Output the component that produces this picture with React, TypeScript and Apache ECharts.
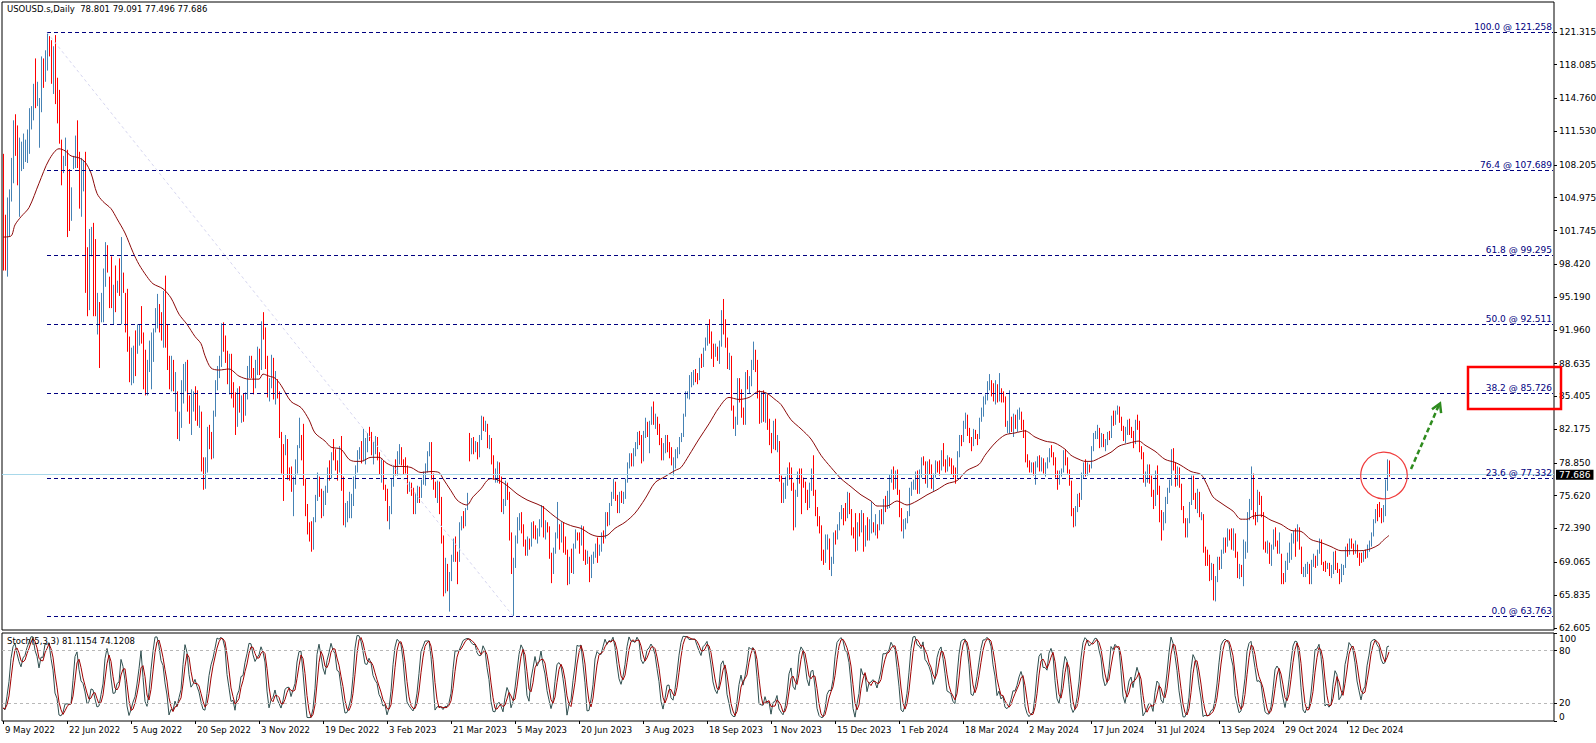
import React, { useEffect, useRef } from 'react';
import * as echarts from 'echarts';

// ---- Daily OHLC bars (USOUSD.s), 9 May 2022 .. 14 Jan 2025 ----
const OPEN = [
108.5,102.5,98.5,102.0,105.0,107.0,112.5,110.5,104.5,108.0,
108.5,109.0,109.5,110.5,112.5,113.5,118.0,114.5,110.5,114.0,
118.5,116.5,118.0,120.6,119.5,116.0,120.5,116.0,114.5,110.5,
107.6,108.5,109.5,106.0,103.0,108.0,108.5,112.0,108.8,104.0,
106.0,108.5,99.5,95.0,100.0,101.5,99.5,92.5,94.0,93.0,
93.5,97.0,100.0,97.0,98.5,93.0,97.5,95.8,98.0,93.5,
97.4,95.3,95.0,91.0,87.0,87.5,91.5,90.0,90.8,94.0,
91.3,89.5,86.0,88.3,87.0,89.5,92.0,92.5,94.3,93.4,
91.0,96.8,92.0,89.0,86.5,88.7,84.5,85.5,81.5,83.0,
85.0,86.5,88.6,85.2,82.0,84.2,85.9,84.0,83.0,83.4,
78.6,76.8,78.5,82.2,81.3,79.5,83.6,86.5,87.8,88.5,
92.5,91.1,89.3,87.3,89.1,85.6,85.5,82.8,86.0,84.5,
85.0,84.6,85.3,87.9,89.1,87.9,86.5,88.4,90.0,88.2,
92.6,91.8,88.9,85.8,86.5,89.0,85.9,86.9,85.6,81.6,
80.1,80.0,80.95,77.9,77.8,76.3,77.2,78.2,80.55,81.2,
80.0,76.9,74.25,72.0,71.5,71.0,73.2,75.4,77.3,76.1,
74.3,75.2,76.2,78.3,77.5,79.6,79.5,78.96,78.4,80.3,
76.9,72.8,73.7,73.8,74.6,75.1,77.4,78.4,79.9,80.2,
79.5,79.8,80.3,81.7,81.6,80.1,80.15,81.0,79.7,77.9,
78.9,76.4,75.9,73.4,74.1,77.1,78.5,78.1,79.7,80.1,
79.1,78.6,78.5,76.3,76.6,76.2,74.0,75.4,76.3,75.7,
77.05,77.7,78.2,79.7,80.5,77.6,76.7,75.7,76.7,74.8,
71.3,67.6,68.35,66.7,67.6,69.3,70.9,69.96,69.26,72.8,
73.2,72.97,74.4,81.3,80.4,80.7,80.6,80.6,79.7,81.5,
83.3,82.2,82.5,80.8,81.0,79.2,77.4,77.9,78.8,77.1,
74.3,74.8,76.8,75.7,71.7,68.6,68.9,71.3,73.2,73.7,
72.6,70.9,70.0,71.1,70.9,72.8,72.0,71.7,71.99,72.9,
74.3,71.8,72.7,72.4,69.5,68.1,70.1,71.7,72.2,71.7,
72.5,70.3,70.2,67.1,69.4,68.3,70.6,71.8,71.6,71.2,
72.5,69.5,69.2,69.4,67.7,69.6,69.9,70.6,69.8,70.6,
71.8,71.7,73.9,72.99,74.8,75.75,76.9,75.4,74.15,75.75,
75.35,75.6,77.1,78.7,79.6,78.8,80.1,80.6,81.8,81.4,
79.5,81.55,82.8,81.9,82.9,84.4,82.8,83.2,82.5,80.99,
79.4,80.4,81.25,80.7,79.6,78.9,79.05,79.8,80.1,81.2,
81.6,83.6,85.55,85.6,86.7,87.5,87.9,87.5,87.3,88.8,
88.5,90.2,90.8,91.5,91.2,90.3,89.6,90.0,89.7,90.4,
93.7,91.7,90.8,88.8,89.2,84.2,82.3,82.8,86.4,85.97,
83.5,82.9,87.7,86.7,86.8,88.3,89.4,88.1,85.5,83.7,
85.4,83.2,85.5,82.3,81.0,80.4,82.5,80.5,80.8,77.4,
75.3,75.7,77.2,78.3,78.2,76.7,72.9,75.9,77.8,77.7,
77.1,76.7,75.5,74.9,76.4,77.9,75.96,74.1,73.0,72.3,
69.4,69.3,71.2,71.3,68.6,69.5,71.6,71.4,72.5,73.9,
74.2,73.9,73.6,75.6,74.1,71.8,71.65,70.4,72.7,72.2,
73.8,70.8,72.2,71.4,72.0,72.7,72.4,72.6,72.5,73.95,
73.4,74.8,74.4,75.1,77.4,78.0,76.8,77.8,75.85,73.8,
72.3,72.8,73.3,73.9,76.2,76.8,76.9,77.9,76.6,78.0,
79.2,78.9,77.0,78.9,78.6,76.5,77.6,78.9,78.5,78.3,
80.0,78.7,78.15,79.1,78.9,78.0,77.9,77.6,79.7,81.3,
81.0,82.7,83.5,81.7,81.1,80.6,81.95,81.6,81.35,83.2,
83.7,85.15,85.4,86.6,86.9,86.4,85.2,86.2,85.0,85.7,
85.4,85.3,82.7,82.8,83.1,82.9,83.4,82.8,83.6,83.85,
82.6,81.9,79.0,78.95,78.1,78.5,77.9,78.9,79.3,78.3,
79.1,78.0,78.6,79.2,80.1,79.8,79.3,77.6,76.9,77.7,
78.1,79.8,79.2,77.9,76.99,74.2,73.25,74.1,75.55,75.5,
77.7,78.9,78.5,78.6,78.45,80.3,81.6,81.7,82.2,80.7,
81.6,80.8,80.9,81.7,81.5,83.4,82.8,83.9,84.1,83.2,
82.3,81.4,82.1,82.6,82.2,81.9,80.8,82.85,82.8,80.1,
79.8,76.96,77.6,78.3,77.2,75.8,74.7,77.9,76.3,73.5,
72.9,73.2,75.2,76.2,76.8,80.1,78.35,76.98,78.2,76.65,
74.4,73.2,71.9,73.0,74.8,77.4,75.5,74.5,75.9,73.55,
73.6,70.3,69.2,69.15,67.7,68.7,65.75,67.3,68.97,68.65,
70.1,71.2,70.9,71.95,71.9,70.4,71.56,69.7,67.7,68.2,
68.1,69.8,70.1,73.7,74.4,77.1,73.6,73.2,75.85,75.56,
73.8,70.6,70.4,70.7,69.2,70.6,72.1,70.8,70.2,69.5,
67.4,67.2,68.6,69.3,69.5,71.5,71.99,71.7,72.4,70.4,
68.0,68.1,68.4,68.7,67.0,69.2,69.4,68.9,70.1,71.2,
68.9,68.8,68.7,68.8,68.0,68.1,69.9,68.5,68.3,67.2,
68.4,68.6,70.3,70.0,71.3,70.7,70.1,70.6,69.9,69.5,
69.2,70.1,69.6,70.6,70.99,71.7,73.1,74.3,74.6,74.25,
73.3,74.0,76.6,78.801
];

const HIGH = [
109.3,103.3,105.0,105.8,108.9,112.6,113.2,112.1,110.9,110.5,
111.3,110.7,111.7,113.8,114.0,116.2,118.7,116.4,114.8,118.9,
118.7,119.5,121.258,120.9,120.5,119.9,121.0,116.8,115.6,110.7,
109.1,110.9,109.7,107.8,106.0,109.1,111.1,112.6,109.5,108.9,
108.7,109.5,100.1,101.9,102.1,102.5,100.9,95.6,94.7,95.6,
98.0,100.6,100.3,97.2,99.2,96.4,98.3,96.8,99.0,101.1,
97.6,95.6,96.0,91.3,90.2,90.4,91.9,92.5,92.5,94.3,
91.7,90.0,89.0,90.9,91.7,92.1,94.1,95.5,94.5,93.7,
95.8,97.3,92.5,89.4,89.4,89.0,87.8,85.9,83.9,87.0,
88.6,88.8,89.0,85.5,86.1,85.9,86.4,86.0,84.5,83.9,
79.4,79.4,82.4,82.6,81.9,84.0,87.0,88.4,89.4,92.6,
92.7,91.4,89.9,89.6,89.6,86.8,85.8,86.2,86.4,85.5,
85.7,85.8,88.4,89.4,89.4,88.2,89.0,90.3,90.1,92.8,
93.7,92.2,89.4,87.2,89.5,89.2,87.9,87.1,85.9,81.9,
80.7,81.6,81.2,78.4,78.5,77.5,79.2,80.6,83.3,81.6,
82.7,77.3,74.8,73.0,73.1,73.5,75.7,77.9,77.5,76.3,
76.1,76.6,78.4,79.1,79.9,81.2,80.2,79.1,80.5,81.5,
77.5,74.9,75.1,76.0,75.8,77.5,78.6,80.1,80.4,81.0,
82.2,81.3,81.8,82.4,81.9,80.9,81.5,81.4,79.9,79.2,
79.1,76.7,76.3,74.6,77.3,78.6,79.2,80.0,80.7,80.4,
79.2,79.4,78.6,77.0,76.9,76.4,75.9,76.6,76.5,77.2,
78.0,78.8,80.0,80.9,80.9,77.8,77.0,77.1,77.0,75.5,
71.7,69.5,68.9,68.1,69.8,71.4,71.6,70.1,73.0,73.6,
74.1,74.4,75.9,81.8,81.3,81.4,81.0,80.9,81.6,83.5,
83.4,83.0,82.7,81.6,81.3,79.6,78.3,79.0,78.9,77.5,
75.3,77.1,76.9,76.0,72.0,69.5,71.7,73.5,73.9,74.0,
72.8,71.3,71.6,71.4,73.0,73.1,72.7,72.4,73.3,74.7,
74.6,73.2,73.0,72.6,70.0,70.5,72.0,75.0,72.8,73.0,
73.0,71.6,70.3,69.6,70.4,70.9,72.3,72.0,72.0,72.7,
72.6,70.3,70.2,69.6,69.8,70.1,70.9,71.5,70.8,72.0,
72.2,74.0,74.0,74.9,76.0,77.3,77.0,75.7,76.0,76.1,
76.0,77.3,78.9,79.8,79.8,80.3,80.9,81.9,82.0,81.6,
82.0,83.3,82.9,83.0,84.4,84.9,83.7,83.4,82.7,81.3,
80.8,81.6,81.6,80.9,80.4,79.4,80.2,80.4,81.4,81.8,
83.7,85.9,85.9,87.5,87.8,88.0,88.1,87.7,89.2,89.6,
90.2,91.2,92.4,93.0,91.8,90.6,90.6,90.3,90.9,93.9,
95.0,93.0,91.2,89.7,89.4,84.5,83.4,87.2,87.2,86.1,
84.3,87.8,88.0,87.4,89.0,90.8,90.0,89.0,86.0,85.8,
86.0,85.8,85.6,83.2,81.8,83.0,83.2,81.6,81.0,77.6,
76.9,77.5,78.4,78.9,78.4,76.9,76.2,78.0,78.3,78.3,
77.4,77.0,76.2,76.9,78.3,79.6,76.2,74.5,73.6,72.7,
70.3,71.8,71.8,71.4,69.6,72.0,72.2,72.8,74.0,74.7,
74.4,74.9,76.0,75.9,74.3,72.5,73.9,73.0,73.9,74.2,
73.9,72.7,73.5,73.3,75.0,73.0,73.8,72.8,74.2,74.3,
75.3,75.6,76.1,77.7,78.2,78.5,78.1,78.2,76.2,74.4,
73.3,73.4,74.1,76.4,77.0,77.2,78.0,78.1,78.2,79.4,
79.5,79.0,79.0,79.2,78.7,77.8,79.1,79.0,79.1,80.1,
80.8,79.2,79.6,79.4,79.3,78.6,78.4,80.0,81.6,81.6,
83.0,83.8,83.6,82.3,81.4,82.2,82.1,81.7,83.3,84.3,
85.4,85.6,86.9,87.6,87.0,86.7,87.0,86.6,87.7,86.2,
85.9,85.4,83.0,86.0,83.4,83.7,83.6,84.1,84.3,83.9,
83.1,82.1,79.7,79.1,78.9,78.9,79.0,79.5,79.6,79.4,
79.3,78.9,79.4,80.3,80.6,79.9,79.4,78.1,78.1,78.3,
80.1,80.2,79.4,78.2,77.1,74.4,74.6,75.8,75.9,77.9,
78.9,79.2,78.9,78.7,80.5,81.8,82.0,82.6,82.3,81.8,
81.7,81.2,81.9,82.0,83.5,84.0,84.0,84.5,84.4,83.4,
82.5,82.4,83.1,83.2,82.4,82.0,83.1,83.6,83.0,80.5,
79.9,78.0,78.7,78.7,77.6,76.2,78.1,78.6,76.6,74.2,
74.0,75.5,76.4,77.2,80.2,80.3,78.9,78.5,78.4,76.8,
74.6,73.4,73.4,75.0,77.6,77.6,75.9,76.3,76.0,74.0,
73.8,70.6,70.3,69.8,69.0,68.9,67.7,69.6,69.6,70.3,
71.5,71.5,72.4,72.3,72.4,72.4,71.9,70.1,68.9,68.8,
71.3,71.1,74.0,75.3,78.5,77.8,74.0,76.2,76.0,75.6,
74.0,71.1,71.2,71.0,70.8,72.3,72.5,71.2,72.0,69.9,
68.0,69.2,70.0,71.0,71.9,72.2,72.4,72.8,72.5,70.6,
68.6,68.9,69.1,68.9,69.3,69.9,69.7,70.3,71.4,71.3,
69.1,69.2,69.0,69.0,68.8,70.1,70.2,69.0,68.4,68.9,
68.8,70.6,70.9,71.4,71.4,70.9,71.2,70.8,70.0,70.0,
70.2,70.3,70.8,71.2,72.0,73.3,74.3,74.8,75.0,74.4,
74.7,77.2,79.2,79.091
];

const LOW = [
97.8,97.8,97.2,101.1,104.6,106.4,109.1,106.2,103.1,107.6,
107.8,108.5,108.4,109.3,111.7,112.6,113.8,114.0,109.9,113.4,
115.8,116.4,117.5,118.9,116.2,115.2,114.2,112.3,110.3,106.2,
107.4,108.1,101.1,101.7,102.7,107.8,107.9,107.9,103.9,103.1,
105.6,95.6,93.3,93.9,99.2,93.3,93.3,91.5,88.2,92.7,
92.7,96.2,97.6,94.1,94.1,92.5,93.7,95.6,95.3,92.5,
95.6,91.7,89.8,86.8,86.5,86.7,87.4,89.6,90.4,90.6,
86.1,85.5,85.5,87.8,86.1,88.8,91.7,92.1,91.7,90.9,
90.2,90.2,88.0,86.1,85.9,85.9,83.9,81.2,81.0,82.3,
84.7,85.9,83.9,82.7,81.6,83.9,83.0,82.5,82.3,78.0,
76.2,76.3,77.9,80.2,79.2,79.3,83.4,86.0,87.2,88.3,
89.8,88.7,86.6,85.6,85.2,84.3,81.6,82.4,83.8,82.8,
82.9,83.5,85.1,87.2,87.2,85.6,86.2,87.5,87.5,88.0,
91.0,88.1,85.3,84.9,86.2,85.1,84.6,85.2,81.3,77.8,
75.1,79.6,77.2,77.1,76.0,73.6,76.7,77.8,80.3,79.1,
76.6,73.6,71.8,71.1,70.1,70.3,73.0,75.1,75.5,73.4,
73.6,74.7,75.9,77.1,77.3,79.1,78.1,77.1,77.9,76.1,
72.7,72.5,73.0,73.4,73.4,74.6,76.3,77.9,79.2,78.8,
79.0,78.7,79.9,81.0,79.6,78.7,79.7,79.1,77.7,76.9,
76.2,75.1,73.1,72.3,73.8,76.5,77.6,77.6,78.7,78.6,
77.7,77.8,75.8,76.0,75.6,73.8,73.8,74.9,74.9,75.4,
76.7,76.6,77.9,79.5,77.2,76.2,75.4,74.9,73.8,70.9,
65.7,66.0,66.2,64.2,67.2,69.1,69.1,66.9,69.1,72.2,
72.4,72.6,74.2,79.0,79.7,79.7,79.9,79.2,79.4,81.1,
82.0,81.9,80.3,80.2,78.7,77.2,76.9,76.9,76.8,74.0,
73.8,74.6,75.2,71.2,67.9,63.763,68.5,70.9,72.2,71.9,
70.6,69.7,69.7,70.3,70.6,71.4,71.3,70.9,71.6,72.5,
71.5,71.3,72.0,69.4,67.0,67.9,69.9,71.4,70.3,71.0,
70.0,69.8,66.8,66.9,68.0,67.9,70.4,71.2,69.9,70.7,
69.2,68.8,68.9,67.1,67.5,68.9,69.5,69.0,69.7,70.1,
70.9,71.4,72.6,72.7,74.6,75.3,75.1,73.9,73.9,74.9,
74.8,75.3,76.9,78.3,78.5,78.5,79.5,80.2,80.6,78.8,
79.0,81.3,81.4,79.8,82.6,82.6,82.2,81.6,80.6,79.1,
79.1,79.8,79.9,79.3,78.6,77.6,78.3,79.3,79.7,80.9,
81.4,83.4,85.2,85.1,86.3,86.5,86.8,86.6,87.0,88.2,
88.3,89.9,90.4,90.6,89.1,88.3,89.3,88.9,88.6,90.3,
91.5,90.2,88.1,88.0,84.0,82.2,81.5,82.6,84.8,83.3,
82.6,82.6,86.1,85.7,86.4,88.0,87.8,85.2,82.7,82.8,
82.9,82.8,82.1,80.6,79.8,80.2,80.1,79.9,77.0,74.9,
74.9,75.3,76.6,77.2,76.1,72.2,72.5,75.5,76.8,73.8,
76.4,74.9,74.2,74.4,76.1,75.6,73.6,72.6,71.9,69.2,
68.8,69.0,70.3,68.3,67.7,68.9,70.8,71.3,72.2,73.3,
72.7,73.1,73.4,73.8,71.7,71.4,70.1,70.2,71.6,72.0,
70.1,70.6,71.2,71.2,71.9,72.0,71.7,71.4,72.2,72.8,
72.8,74.0,74.3,74.4,76.9,76.2,76.3,75.7,73.5,72.1,
71.4,72.3,72.9,73.6,75.6,76.2,76.2,75.8,75.8,77.4,
78.6,76.8,76.4,77.7,76.3,76.1,77.4,77.9,77.6,78.1,
78.5,77.9,78.0,78.5,77.7,77.4,76.8,77.4,79.4,80.5,
80.9,82.2,81.5,80.8,80.0,80.5,81.2,80.6,81.2,82.9,
83.4,84.6,85.0,86.0,85.4,84.9,84.6,84.8,84.9,84.8,
84.8,82.4,81.8,81.7,81.9,81.4,82.2,81.9,83.1,82.1,
81.3,78.9,78.4,77.9,77.9,77.6,76.7,78.4,78.0,78.0,
77.8,77.5,78.3,78.9,79.4,78.6,77.4,76.2,76.7,77.5,
77.9,78.6,77.8,76.6,73.6,72.5,72.6,74.0,74.5,75.2,
77.3,77.5,77.6,77.9,78.3,80.0,81.2,81.2,80.3,80.4,
80.4,80.0,80.6,81.1,81.3,82.5,82.6,83.6,82.8,82.0,
81.0,80.8,81.6,81.6,81.3,80.3,80.7,82.1,79.9,79.2,
76.9,76.5,76.9,76.8,75.5,74.3,74.6,75.7,73.0,71.2,
72.2,72.9,74.8,75.9,76.6,78.1,76.5,76.6,76.4,74.2,
72.9,71.5,71.5,72.9,74.7,75.2,74.3,73.9,73.5,73.2,
70.0,68.7,68.7,67.2,67.3,65.3,65.2,67.1,68.3,68.4,
69.9,70.0,70.6,71.2,70.3,70.2,69.5,67.5,67.4,67.6,
66.7,69.4,70.0,73.2,74.2,73.3,72.7,73.0,74.7,73.5,
70.3,70.0,69.9,68.9,68.7,70.3,70.6,69.9,69.9,66.9,
66.9,67.1,68.3,69.0,69.3,70.9,69.6,71.1,70.3,67.9,
67.6,67.6,67.9,66.9,66.9,68.6,68.5,68.7,69.9,68.8,
68.2,68.1,68.4,67.7,67.5,67.9,68.3,68.0,66.9,67.1,
67.8,68.5,69.6,69.8,70.4,69.8,69.9,69.5,68.7,69.0,
69.1,69.4,69.5,70.1,70.6,71.6,72.9,73.1,73.5,72.9,
73.0,73.6,76.1,77.496
];

const CLOSE = [
99.5,99.0,104.2,105.0,108.2,111.8,110.0,107.0,110.2,110.0,
110.8,110.3,111.3,113.5,113.8,115.8,114.5,116.0,114.3,118.5,
116.3,119.0,120.5,119.3,116.8,119.5,114.8,113.0,110.8,107.0,
108.8,110.5,102.0,102.5,105.5,108.9,110.6,108.5,104.5,108.3,
108.4,97.0,95.0,101.0,101.6,94.5,94.2,95.2,89.5,95.0,
97.5,100.0,98.0,94.6,94.8,96.0,94.5,96.6,95.8,100.5,
96.0,92.5,90.5,87.5,89.8,90.0,88.0,92.0,92.3,91.0,
86.8,86.0,88.6,90.5,91.3,91.8,93.8,95.0,92.2,91.3,
95.3,91.0,88.6,86.6,89.0,86.4,87.4,81.8,83.6,86.6,
88.2,88.5,84.5,83.2,85.7,85.6,84.0,82.9,83.5,78.7,
76.7,78.5,82.2,81.2,79.5,83.6,86.5,87.8,88.5,92.5,
91.1,89.3,87.3,89.1,85.6,85.5,82.8,86.0,84.5,85.0,
84.6,85.3,87.9,89.1,87.9,86.5,88.4,90.0,88.2,92.6,
91.8,88.9,85.8,86.5,89.0,85.9,86.9,85.6,81.6,80.1,
80.0,80.95,77.9,77.8,76.3,77.2,78.2,80.55,81.2,80.0,
76.9,74.25,72.0,71.5,71.0,73.2,75.4,77.3,76.1,74.3,
75.2,76.2,78.3,77.5,79.6,79.5,78.96,78.4,80.3,76.9,
72.8,73.7,73.8,74.6,75.1,77.4,78.4,79.9,80.2,79.5,
79.8,80.3,81.6,81.6,80.1,80.15,81.0,79.7,77.9,78.9,
76.4,75.9,73.4,74.1,77.1,78.5,78.1,79.7,80.1,79.1,
78.6,78.5,76.3,76.6,76.2,74.0,75.4,76.3,75.7,77.05,
77.7,78.2,79.7,80.5,77.6,76.7,75.7,76.7,74.8,71.3,
67.6,68.35,66.7,67.6,69.3,70.9,69.96,69.26,72.8,73.2,
72.97,74.4,75.7,80.4,80.7,80.6,80.7,79.7,81.5,83.3,
82.2,82.5,80.8,81.0,79.2,77.4,77.9,78.8,77.1,74.3,
74.8,76.8,75.7,71.7,68.6,68.9,71.3,73.2,73.7,72.6,
70.9,70.0,71.1,70.9,72.8,72.0,71.7,71.99,72.9,74.3,
71.8,72.7,72.4,69.5,68.1,70.1,71.7,72.2,71.7,72.5,
70.3,70.2,67.1,69.4,68.3,70.6,71.8,71.6,71.2,72.5,
69.5,69.2,69.4,67.7,69.6,69.9,70.6,69.8,70.6,71.8,
71.7,73.9,72.99,74.8,75.75,76.9,75.4,74.15,75.75,75.35,
75.6,77.1,78.7,79.6,78.8,80.1,80.6,81.8,81.4,79.5,
81.55,82.8,81.9,82.9,84.4,82.8,83.2,82.5,80.99,79.4,
80.4,81.25,80.7,79.6,78.9,79.05,79.8,80.1,81.2,81.6,
83.6,85.55,85.6,86.7,87.5,87.9,87.5,87.3,88.8,88.5,
90.2,90.8,91.5,91.2,90.3,89.6,90.0,89.7,90.4,93.7,
91.7,90.8,88.8,89.2,84.2,82.3,82.8,86.4,85.97,83.5,
82.9,87.7,86.7,86.8,88.3,89.4,88.1,85.5,83.7,85.4,
83.2,85.5,82.3,81.0,80.4,82.5,80.5,80.8,77.4,75.3,
75.7,77.2,78.3,78.2,76.7,72.9,75.9,77.8,77.7,77.1,
76.7,75.5,74.9,76.4,77.9,75.96,74.1,73.0,72.3,69.4,
69.3,71.2,71.3,68.6,69.5,71.6,71.4,72.5,73.9,74.2,
73.9,73.6,75.6,74.1,71.8,71.65,70.4,72.7,72.2,73.8,
70.8,72.2,71.4,72.0,72.7,72.4,72.6,72.5,73.95,73.4,
74.8,74.4,75.1,77.4,78.0,76.8,77.8,75.85,73.8,72.3,
72.8,73.3,73.9,76.2,76.8,76.9,77.9,76.6,78.0,79.2,
78.9,77.0,78.9,78.6,76.5,77.6,78.9,78.5,78.3,80.0,
78.7,78.15,79.1,78.9,78.0,77.9,77.6,79.7,81.3,81.0,
82.7,83.5,81.7,81.1,80.6,81.95,81.6,81.35,83.2,83.7,
85.15,85.4,86.6,86.9,86.4,85.2,86.2,85.0,85.7,85.4,
85.3,82.7,82.8,83.1,82.9,83.4,82.8,83.6,83.85,82.6,
81.9,79.0,78.95,78.1,78.5,78.4,78.9,79.3,78.3,79.1,
78.0,78.6,79.2,80.1,79.8,79.3,77.6,76.9,77.7,78.1,
79.8,79.2,77.9,76.99,74.2,73.25,74.1,75.55,75.5,77.7,
78.9,78.5,78.6,78.45,80.3,81.6,81.7,82.2,80.7,81.6,
80.8,80.9,81.7,81.5,83.4,82.8,83.9,84.1,83.2,82.3,
81.4,82.1,82.6,82.2,81.9,80.8,82.85,82.8,80.1,79.8,
76.96,77.6,78.3,77.2,75.8,74.7,77.9,76.3,73.5,72.9,
73.2,75.2,76.2,76.8,80.1,78.35,76.98,78.2,76.65,74.4,
73.2,71.9,73.0,74.8,77.4,75.5,74.5,75.9,73.55,73.6,
70.3,69.2,69.15,67.7,68.7,65.75,67.3,68.97,68.65,70.1,
71.2,70.9,71.95,71.9,70.4,71.56,69.7,67.7,68.2,68.1,
69.8,70.1,73.7,74.4,77.1,73.6,73.2,75.85,75.56,73.8,
70.6,70.4,70.7,69.2,70.6,72.1,70.8,70.2,71.8,67.4,
67.2,68.6,69.3,69.5,71.5,71.99,71.7,72.4,70.4,68.0,
68.1,68.4,68.7,67.0,69.2,69.4,68.9,70.1,71.2,68.9,
68.8,68.7,68.8,68.0,68.1,69.9,68.5,68.3,67.2,68.4,
68.6,70.3,70.0,71.3,70.7,70.1,70.6,69.9,69.5,69.2,
70.1,69.6,70.6,70.99,71.7,73.1,73.96,73.56,74.25,73.3,
74.0,76.6,78.8,77.686
];

// Moving average line: [bar index, value]
const MA_POINTS = [
[0,101.1],[4,101.2],[6,102.3],[9,103.1],[13,104.0],[18,106.4],[23,108.7],[28,109.8],[31,109.6],[34,109.1],
[38,108.9],[41,108.5],[44,107.4],[47,105.4],[50,104.6],[54,103.9],[57,102.9],[61,101.5],[65,99.6],[68,98.4],
[72,97.2],[75,96.5],[80,96.0],[84,95.1],[88,93.5],[92,92.5],[96,91.3],[99,90.6],[101,89.4],[104,88.2],
[108,88.0],[113,88.1],[118,87.4],[123,87.1],[128,87.1],[130,87.6],[133,87.4],[136,87.2],[139,86.5],[144,84.9],
[149,84.3],[153,83.1],[156,81.8],[161,81.0],[164,80.4],[169,80.2],[173,79.2],[176,79.0],[179,79.0],[184,79.4],
[188,79.4],[192,78.8],[196,78.5],[199,78.5],[204,78.4],[209,77.9],[214,78.0],[218,77.9],[220,77.3],[224,76.1],
[227,75.2],[230,74.8],[232,74.7],[235,75.5],[239,76.3],[242,77.1],[244,77.3],[247,77.2],[250,76.9],[254,76.3],
[257,75.8],[262,75.2],[267,74.8],[270,74.5],[275,73.7],[280,73.0],[285,72.6],[289,72.4],[294,71.8],[298,71.6],
[302,71.7],[306,72.4],[311,73.0],[316,73.9],[321,75.3],[326,76.9],[331,77.5],[336,78.1],[339,78.4],[343,79.6],
[348,81.2],[353,82.7],[358,84.3],[363,85.3],[368,85.1],[373,85.3],[378,85.9],[382,85.7],[386,85.1],[389,84.6],
[394,83.1],[399,82.2],[404,81.2],[409,79.6],[414,78.4],[419,77.3],[424,76.5],[429,75.7],[434,75.1],[437,74.6],
[442,74.6],[447,75.1],[452,74.7],[457,75.1],[462,75.7],[467,76.2],[472,76.8],[477,77.1],[482,78.1],[488,78.7],
[491,79.6],[496,80.8],[501,81.6],[506,81.8],[511,82.0],[516,81.4],[521,81.0],[526,80.8],[531,80.2],[534,79.6],
[538,79.2],[541,79.0],[544,79.0],[549,79.4],[554,79.9],[558,80.5],[563,80.8],[568,81.0],[571,80.6],[576,80.0],
[581,79.2],[586,78.9],[589,78.6],[594,78.0],[599,77.7],[602,76.7],[605,75.5],[609,74.9],[612,74.5],[615,74.1],
[619,73.3],[622,73.3],[625,73.6],[629,73.7],[634,73.2],[639,72.8],[644,72.2],[649,72.1],[654,71.3],[659,71.0],
[664,70.6],[669,70.2],[674,70.2],[679,70.2],[684,70.4],[688,70.8],[690,71.2],[693,71.7]
];

const DATE_LABELS = [
'9 May 2022','22 Jun 2022','5 Aug 2022','20 Sep 2022','3 Nov 2022','19 Dec 2022',
'3 Feb 2023','21 Mar 2023','5 May 2023','20 Jun 2023','3 Aug 2023','18 Sep 2023',
'1 Nov 2023','15 Dec 2023','1 Feb 2024','18 Mar 2024','2 May 2024','17 Jun 2024',
'31 Jul 2024','13 Sep 2024','29 Oct 2024','12 Dec 2024'
];
const LABEL_STEP = 32;
const SLOT_COUNT = 776;

const PRICE_TICKS = [121.315,118.085,114.760,111.530,108.205,104.975,101.745,98.420,95.190,91.960,
  88.635,85.405,82.175,78.850,75.620,72.390,69.065,65.835,62.605];
const STOCH_TICKS = [0, 20, 80, 100];
const STOCH_LEVELS = [20, 80];

const FIB_RATIOS = ['100.0','76.4','61.8','50.0','38.2','23.6','0.0'];
const FIB_PRICES = [121.258,107.689,99.295,92.511,85.726,77.332,63.763];
const FIB_START = 22;
const FIB_END = 255;
const LAST_PRICE = 77.686;

const TITLE = 'USOUSD.s,Daily  78.801 79.091 77.496 77.686';
const STOCH_TITLE = 'Stoch(5,3,3) 81.1154 74.1208';

const FONT = '"DejaVu Sans", sans-serif';
const UP = '#4682b4';
const DOWN = '#ff0000';
const FIB_COLOR = '#000080';

function stochastic(H: number[], L: number[], C: number[], kp: number, slow: number, dp: number) {
  const n = C.length;
  const hh: number[] = [];
  const ll: number[] = [];
  for (let i = 0; i < n; i++) {
    let h = -Infinity, l = Infinity;
    for (let j = Math.max(0, i - kp + 1); j <= i; j++) { h = Math.max(h, H[j]); l = Math.min(l, L[j]); }
    hh.push(h); ll.push(l);
  }
  const K: number[] = [];
  for (let i = 0; i < n; i++) {
    let num = 0, den = 0;
    for (let j = Math.max(0, i - slow + 1); j <= i; j++) { num += C[j] - ll[j]; den += hh[j] - ll[j]; }
    K.push(den > 0 ? (100 * num) / den : 50);
  }
  const D: number[] = [];
  for (let i = 0; i < n; i++) {
    let s = 0, c = 0;
    for (let j = Math.max(0, i - dp + 1); j <= i; j++) { s += K[j]; c++; }
    D.push(s / c);
  }
  return { K, D };
}

export default function App() {
  const ref = useRef<HTMLDivElement>(null);
  useEffect(() => {
    if (!ref.current) return;
    const chart = echarts.init(ref.current, undefined, { renderer: 'svg' });
    const cats = Array.from({ length: SLOT_COUNT }, (_, i) => String(i));
    const bars = OPEN.map((o, i) => [i, o, HIGH[i], LOW[i], CLOSE[i]]);
    const { K, D } = stochastic(HIGH, LOW, CLOSE, 5, 3, 3);
    const labelInterval = (index: number) => index % LABEL_STEP === 0 && index / LABEL_STEP < DATE_LABELS.length;

    const fibLines: any[] = FIB_PRICES.map((p, k) => [
      {
        coord: [FIB_START, p],
        label: { show: true, position: 'insideEndTop', formatter: `${FIB_RATIOS[k]} @ ${p.toFixed(3)}`,
          color: FIB_COLOR, fontFamily: FONT, fontSize: 9, distance: 1 },
        lineStyle: { color: FIB_COLOR, type: [4, 3], width: 1 },
      },
      { coord: [SLOT_COUNT - 1, p] },
    ]);
    const diagonal = [
      { coord: [FIB_START, FIB_PRICES[0]], label: { show: false }, lineStyle: { color: '#d6d6f0', type: [3, 3], width: 1 } },
      { coord: [FIB_END, FIB_PRICES[6]] },
    ];
    const lastLine = {
      yAxis: LAST_PRICE,
      lineStyle: { color: '#a8d8ea', type: 'solid', width: 1 },
      label: { show: true, position: 'end', formatter: LAST_PRICE.toFixed(3), backgroundColor: '#000', color: '#fff',
        fontFamily: FONT, fontSize: 9, padding: [1, 3, 0, 3], distance: 2 },
    };

    const option: any = {
      animation: false,
      backgroundColor: '#ffffff',
      grid: [
        { left: 2, top: 2, width: 1552, height: 628, show: true, borderColor: '#000', borderWidth: 1, containLabel: false, outerBoundsMode: 'none' },
        { left: 2, top: 633, width: 1552, height: 88, show: true, borderColor: '#000', borderWidth: 1, containLabel: false, outerBoundsMode: 'none' },
      ],
      xAxis: [
        { type: 'category', gridIndex: 0, data: cats, boundaryGap: true, axisLine: { show: false }, axisTick: { show: false },
          axisLabel: { show: false }, splitLine: { show: false } },
        { type: 'category', gridIndex: 1, data: cats, boundaryGap: true, axisLine: { show: false },
          axisTick: { show: true, alignWithLabel: true, interval: labelInterval, length: 3, lineStyle: { color: '#000' } },
          axisLabel: { show: true, interval: labelInterval, formatter: (v: string) => DATE_LABELS[Number(v) / LABEL_STEP] || '',
            align: 'left', fontFamily: FONT, fontSize: 8.5, color: '#000', margin: 4, padding: [0, 0, 0, 2] },
          splitLine: { show: false } },
      ],
      yAxis: [
        { type: 'value', gridIndex: 0, position: 'right', min: 62.385, max: 124.26, axisLine: { show: false }, splitLine: { show: false },
          axisTick: { show: true, customValues: PRICE_TICKS, length: 3, lineStyle: { color: '#000' } },
          axisLabel: { show: true, customValues: PRICE_TICKS, formatter: (v: number) => v.toFixed(3), fontFamily: FONT, fontSize: 9, color: '#000', margin: 5 } },
        { type: 'value', gridIndex: 1, position: 'right', min: 0, max: 100, axisLine: { show: false }, splitLine: { show: false },
          axisTick: { show: true, customValues: STOCH_TICKS, length: 3, lineStyle: { color: '#000' } },
          axisLabel: { show: true, customValues: STOCH_TICKS, margin: 5, color: '#000', fontFamily: FONT, fontSize: 9,
            formatter: (v: number) => (v === 100 ? '{t|100}' : v === 0 ? '{b|0}' : String(v)),
            rich: {
              t: { fontFamily: FONT, fontSize: 9, color: '#000', padding: [12, 0, 0, 0] },
              b: { fontFamily: FONT, fontSize: 9, color: '#000', padding: [0, 0, 8, 0] },
            } } },
      ],
      series: [
        {
          type: 'custom', name: 'bars', xAxisIndex: 0, yAxisIndex: 0, data: bars, silent: true, z: 3,
          encode: { x: 0, y: [2, 3] },
          renderItem: (params: any, api: any) => {
            const i = api.value(0);
            const o = api.value(1), h = api.value(2), l = api.value(3), c = api.value(4);
            const p1 = api.coord([i, h]);
            const p2 = api.coord([i, l]);
            const x = Math.round(p1[0]) + 0.5;
            return { type: 'line', shape: { x1: x, y1: p1[1], x2: x, y2: p2[1] },
              style: { stroke: c >= o ? UP : DOWN, lineWidth: 1 } };
          },
        },
        {
          type: 'line', name: 'MA', xAxisIndex: 0, yAxisIndex: 0, data: MA_POINTS, showSymbol: false, smooth: 0.3,
          lineStyle: { color: '#8b0a0a', width: 1 }, silent: true, z: 4,
          markLine: { symbol: ['none', 'none'], silent: true, animation: false, precision: 3,
            data: [...fibLines, diagonal, lastLine] },
        },
        {
          type: 'line', name: 'K', xAxisIndex: 1, yAxisIndex: 1, data: K, showSymbol: false,
          lineStyle: { color: '#2f4f4f', width: 1 }, silent: true, z: 3,
          markLine: { symbol: ['none', 'none'], silent: true, animation: false,
            label: { show: false }, lineStyle: { color: '#b8b8b8', type: [3, 3], width: 1 },
            data: STOCH_LEVELS.map((v) => ({ yAxis: v })) },
        },
        {
          type: 'line', name: 'D', xAxisIndex: 1, yAxisIndex: 1, data: D, showSymbol: false,
          lineStyle: { color: '#a00000', width: 1 }, silent: true, z: 4,
        },
      ],
      graphic: [
        { type: 'text', left: 7, top: 4, z: 100, style: { text: TITLE, font: `8.5px ${FONT}`, fill: '#000' } },
        { type: 'text', left: 7, top: 636, z: 100, style: { text: STOCH_TITLE, font: `8.5px ${FONT}`, fill: '#000' } },
        { type: 'circle', z: 100, shape: { cx: 1384, cy: 475.5, r: 23.3 }, style: { fill: 'none', stroke: '#f03c3c', lineWidth: 1.2 } },
        { type: 'line', z: 100, shape: { x1: 1411, y1: 469, x2: 1439, y2: 405 }, style: { stroke: '#2e8b1e', lineWidth: 2.5, lineDash: [5, 3] } },
        { type: 'polyline', z: 100, shape: { points: [[1432, 409.2], [1440, 403.5], [1441.1, 413.2]] }, style: { stroke: '#2e8b1e', lineWidth: 2.5, fill: 'none' } },
        { type: 'rect', z: 100, shape: { x: 1468, y: 367, width: 93, height: 42 }, style: { fill: 'none', stroke: '#ff0000', lineWidth: 2.5 } },
      ],
    };
    chart.setOption(option);
    return () => { chart.dispose(); };
  }, []);
  return <div ref={ref} style={{ position: 'fixed', left: 0, top: 0, width: 1596, height: 743, background: '#fff' }} />;
}
